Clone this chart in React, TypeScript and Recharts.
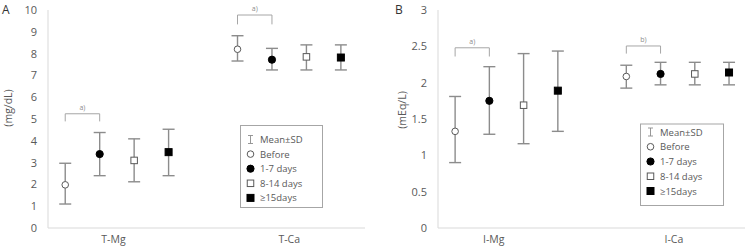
import React from 'react';
import { ScatterChart, Scatter, XAxis, YAxis, ErrorBar, ReferenceLine } from 'recharts';

const seriesNames = ['Before', '1-7 days', '8-14 days', '≥15days'];

// A: total Mg / Ca, mg/dL. errors are [below, above]
const totalLabels = ['T-Mg', 'T-Ca'];
const totalTickAt = [1.4, 6.5];
const totalBefore = [1.98, 8.2];
const total1to7 = [3.39, 7.72];
const total8to14 = [3.1, 7.85];
const total15 = [3.48, 7.82];
const totalBeforeSd = [[0.88, 0.99], [0.54, 0.62]];
const total1to7Sd = [[0.99, 0.99], [0.47, 0.52]];
const total8to14Sd = [[0.98, 0.99], [0.6, 0.55]];
const total15Sd = [[1.08, 1.05], [0.57, 0.58]];
const totalTicks = [0, 1, 2, 3, 4, 5, 6, 7, 8, 9, 10];

// B: ionized Mg / Ca, mEq/L
const ionLabels = ['I-Mg', 'I-Ca'];
const ionTickAt = [1.13, 6.39];
const ionBefore = [1.33, 2.085];
const ion1to7 = [1.75, 2.12];
const ion8to14 = [1.69, 2.12];
const ion15 = [1.89, 2.14];
const ionBeforeSd = [[0.43, 0.48], [0.16, 0.155]];
const ion1to7Sd = [[0.46, 0.47], [0.15, 0.16]];
const ion8to14Sd = [[0.53, 0.71], [0.15, 0.16]];
const ion15Sd = [[0.56, 0.545], [0.17, 0.14]];
const ionTicks = [0, 0.5, 1, 1.5, 2, 2.5, 3];

// significance brackets: series index from/to within a group, top and foot height
const totalBrackets = [
  { group: 0, top: 5.24, foot: 4.89, mark: 'a)' },
  { group: 1, top: 9.77, foot: 9.34, mark: 'a)' },
];
const ionBrackets = [
  { group: 0, top: 2.48, foot: 2.36, mark: 'a)' },
  { group: 1, top: 2.505, foot: 2.4, mark: 'b)' },
];

const markerKinds = [
  { kind: 'circle', filled: false },
  { kind: 'circle', filled: true },
  { kind: 'square', filled: false },
  { kind: 'square', filled: true },
];

const FONT = '"Open Sans", sans-serif';
const GREY = '#595959';
const BAR = '#8c8c8c';

const Marker = ({ cx, cy, kind, filled }: any) => {
  const fill = filled ? '#000' : '#fff';
  const stroke = filled ? '#000' : '#595959';
  if (kind === 'circle') {
    return <circle cx={cx} cy={cy} r={filled ? 3.6 : 3.3} fill={fill} stroke={stroke} strokeWidth={1} />;
  }
  const s = filled ? 7 : 6.5;
  return <rect x={cx - s / 2} y={cy - s / 2} width={s} height={s} fill={fill} stroke={stroke} strokeWidth={1} />;
};

// group g, series i -> x position (4 series, gap of one slot between groups)
const xPos = (g: number, i: number) => g * 5 + i;

const buildSeries = (means: number[][], sds: number[][][]) =>
  means.map((vals, i) => vals.map((y, g) => ({ x: xPos(g, i), y, err: sds[i][g] })));

const axisTitle = (text: string, dx: number, dy: number) => (props: any) => {
  const { x, y, height } = props.viewBox;
  const cx = x + dx;
  const cy = y + height / 2 + dy;
  return (
    <text x={cx} y={cy} transform={`rotate(-90 ${cx} ${cy})`} textAnchor="middle" dominantBaseline="central"
      fontFamily={FONT} fontSize={10.5} fill={GREY}>{text}</text>
  );
};

interface PanelProps {
  width: number;
  yWidth: number;
  yMax: number;
  yTicks: number[];
  yTitle: string;
  titleDx: number;
  titleDy: number;
  labels: string[];
  tickAt: number[];
  series: { x: number; y: number; err: number[] }[][];
  brackets: { group: number; top: number; foot: number; mark: string }[];
  marginRight: number;
}

const Panel = ({ width, yWidth, yMax, yTicks, yTitle, titleDx, titleDy, labels, tickAt, series, brackets, marginRight }: PanelProps) => (
  <ScatterChart width={width} height={251} margin={{ top: 10, right: marginRight, bottom: 1, left: 0 }}>
    <XAxis
      type="number"
      dataKey="x"
      domain={[-0.5, 8.7]}
      ticks={tickAt}
      interval={0}
      tickFormatter={(v: number) => labels[tickAt.indexOf(v)] ?? ''}
      axisLine={{ stroke: '#d9d9d9' }}
      tickLine={false}
      height={22}
      tick={{ fontFamily: FONT, fontSize: 10.5, fill: GREY }}
    />
    <YAxis
      type="number"
      dataKey="y"
      domain={[0, yMax]}
      ticks={yTicks}
      interval={0}
      width={yWidth}
      axisLine={{ stroke: '#d9d9d9' }}
      tickLine={false}
      tickMargin={5}
      tick={{ fontFamily: FONT, fontSize: 11, fill: GREY }}
      label={{ content: axisTitle(yTitle, titleDx, titleDy) }}
    />
    {brackets.map((b, k) => {
      const x1 = xPos(b.group, 0);
      const x2 = xPos(b.group, 1);
      const st = { stroke: '#a6a6a6', strokeWidth: 1 };
      return (
        <React.Fragment key={k}>
          <ReferenceLine segment={[{ x: x1, y: b.foot }, { x: x1, y: b.top }]} {...st} />
          <ReferenceLine segment={[{ x: x2, y: b.foot }, { x: x2, y: b.top }]} {...st} />
          <ReferenceLine
            segment={[{ x: x1, y: b.top }, { x: x2, y: b.top }]}
            {...st}
            label={{ value: b.mark, position: 'top', offset: 4, fontSize: 7, fill: '#8c8c8c', fontFamily: FONT }}
          />
        </React.Fragment>
      );
    })}
    {series.map((data, i) => (
      <Scatter
        key={seriesNames[i]}
        name={seriesNames[i]}
        data={data}
        isAnimationActive={false}
        shape={(p: any) => <Marker cx={p.cx} cy={p.cy} {...markerKinds[i]} />}
      >
        <ErrorBar dataKey="err" direction="y" width={6} stroke={BAR} strokeWidth={1.4} />
      </Scatter>
    ))}
  </ScatterChart>
);

const LegendIcon = ({ x, y, idx }: { x: number; y: number; idx: number }) => {
  if (idx === 0) {
    return (
      <g stroke={BAR} strokeWidth={0.9}>
        <line x1={x} y1={y - 4} x2={x} y2={y + 4} />
        <line x1={x - 2.5} y1={y - 4} x2={x + 2.5} y2={y - 4} />
        <line x1={x - 2.5} y1={y + 4} x2={x + 2.5} y2={y + 4} />
      </g>
    );
  }
  return <Marker cx={x} cy={y} {...markerKinds[idx - 1]} />;
};

const LegendBox = ({ x, y, w, h, first, step }: any) => {
  const rows = ['Mean±SD', ...seriesNames];
  return (
    <g>
      <rect x={x + 0.5} y={y + 0.5} width={w} height={h} fill="#fff" stroke="#a6a6a6" />
      {rows.map((name, i) => {
        const cy = y + first + i * step;
        return (
          <g key={name}>
            <LegendIcon x={x + 10.5} y={cy} idx={i} />
            <text x={x + 20} y={cy} dominantBaseline="central" fontFamily={FONT} fontSize={9.5} fill={GREY}>{name}</text>
          </g>
        );
      })}
    </g>
  );
};

export default function App() {
  const totalSeries = buildSeries([totalBefore, total1to7, total8to14, total15], [totalBeforeSd, total1to7Sd, total8to14Sd, total15Sd]);
  const ionSeries = buildSeries([ionBefore, ion1to7, ion8to14, ion15], [ionBeforeSd, ion1to7Sd, ion8to14Sd, ion15Sd]);

  return (
    <div style={{ position: 'absolute', left: 0, top: 0, width: 745, height: 251, overflow: 'hidden', background: '#fff' }}>
      <div style={{ position: 'absolute', left: 0, top: 0 }}>
        <Panel width={370} yWidth={48} yMax={10} yTicks={totalTicks} yTitle="(mg/dL)" titleDx={8} titleDy={-11}
          labels={totalLabels} tickAt={totalTickAt} series={totalSeries} brackets={totalBrackets} marginRight={5} />
      </div>
      <div style={{ position: 'absolute', left: 375, top: 0 }}>
        <Panel width={378} yWidth={63} yMax={3} yTicks={ionTicks} yTitle="(mEq/L)" titleDx={27} titleDy={-9}
          labels={ionLabels} tickAt={ionTickAt} series={ionSeries} brackets={ionBrackets} marginRight={0} />
      </div>
      <svg width={745} height={251} style={{ position: 'absolute', left: 0, top: 0, pointerEvents: 'none' }}>
        <text x={2} y={13.5} fontFamily={FONT} fontSize={12} fill="#333">A</text>
        <text x={395} y={13.5} fontFamily={FONT} fontSize={12} fill="#333">B</text>
        <LegendBox x={240} y={125} w={82} h={82} first={14.5} step={14.6} />
        <LegendBox x={640} y={123.5} w={83} h={81.5} first={8.5} step={14.75} />
      </svg>
    </div>
  );
}
